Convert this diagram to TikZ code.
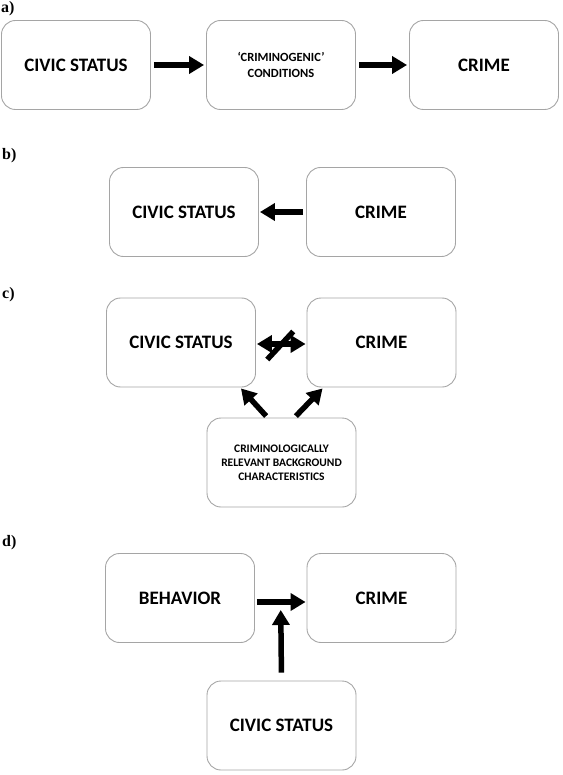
\documentclass[tikz,border=0pt]{standalone}
\usepackage{fontspec}
\setmainfont{Carlito}
\newfontfamily\panelfont{Liberation Serif}
\usetikzlibrary{arrows.meta,calc}
\definecolor{boxgray}{RGB}{165,165,165}
\begin{document}
\begin{tikzpicture}[x=1pt,y=-1pt,
  box/.style={draw=boxgray, line width=0.9pt, rounded corners=14pt,
    minimum width=149pt, minimum height=89pt, inner sep=2pt, align=center,
    font=\bfseries\fontsize{19}{22}\selectfont},
  smallbox/.style={box, font=\bfseries\fontsize{12.5}{16}\selectfont},
  tinybox/.style={box, font=\bfseries\fontsize{11.5}{14}\selectfont},
  arr/.style={line width=5.5pt, -{Triangle[length=15pt,width=17pt]}},
  darr/.style={line width=5.5pt, {Triangle[length=15pt,width=17pt]}-{Triangle[length=15pt,width=17pt]}},
  panel/.style={anchor=west, inner sep=0pt, font=\panelfont\bfseries\fontsize{16}{18}\selectfont}
]
\useasboundingbox (0,0) rectangle (562,775);

% labels
\node[panel] (la) at (1,9) {a)};
\node[panel] (lb) at (2,156) {b)};
\node[panel] (lc) at (2,295) {c)};
\node[panel] (ld) at (2,543) {d)};

% panel a
\node[box] (a1) at (76,65) {CIVIC STATUS};
\node[smallbox] (a2) at (281,65) {‘CRIMINOGENIC’\\CONDITIONS};
\node[box] (a3) at (484,65) {CRIME};
\draw[arr, shorten <=3pt, shorten >=2pt] (a1.east) -- (a2.west);
\draw[arr, shorten <=3pt, shorten >=2pt] (a2.east) -- (a3.west);

% panel b
\node[box] (b1) at (184,212) {CIVIC STATUS};
\node[box] (b2) at (381,212) {CRIME};
\draw[arr, shorten <=3pt, shorten >=1pt] (b2.west) -- (b1.east);

% panel c
\node[box] (c1) at (181,342.5) {CIVIC STATUS};
\node[box] (c2) at (381.5,342.5) {CRIME};
\node[tinybox] (c3) at (281.5,462.5) {CRIMINOLOGICALLY\\RELEVANT BACKGROUND\\CHARACTERISTICS};
\draw[darr, shorten <=1pt, shorten >=1pt] ([yshift=-1.5pt]c1.east) -- ([yshift=-1.5pt]c2.west);
\coordinate (cm) at ($(c1.east)!0.5!(c2.west)$);
\draw[line width=5.5pt] ([shift={(-14,17)}]cm) -- ([shift={(12,-11)}]cm);
\draw[arr, shorten <=2pt] ([xshift=-14pt]c3.north) -- ([xshift=-15pt,yshift=-1pt]c1.south east);
\draw[arr, shorten <=2pt] ([xshift=13pt]c3.north) -- ([xshift=16pt,yshift=-1pt]c2.south west);

% panel d
\node[box] (d1) at (180,598) {BEHAVIOR};
\node[box] (d2) at (381.5,598) {CRIME};
\node[box] (d3) at (281.5,725.5) {CIVIC STATUS};
\draw[arr, shorten <=2pt, shorten >=1pt] ([yshift=-4pt]d1.east) -- ([yshift=-4pt]d2.west);
\coordinate (dm) at ($(d1.east)!0.5!(d2.west)$);
\draw[arr, shorten <=8pt] (d3.north) -- ([yshift=-12pt]dm);
\end{tikzpicture}
\end{document}
